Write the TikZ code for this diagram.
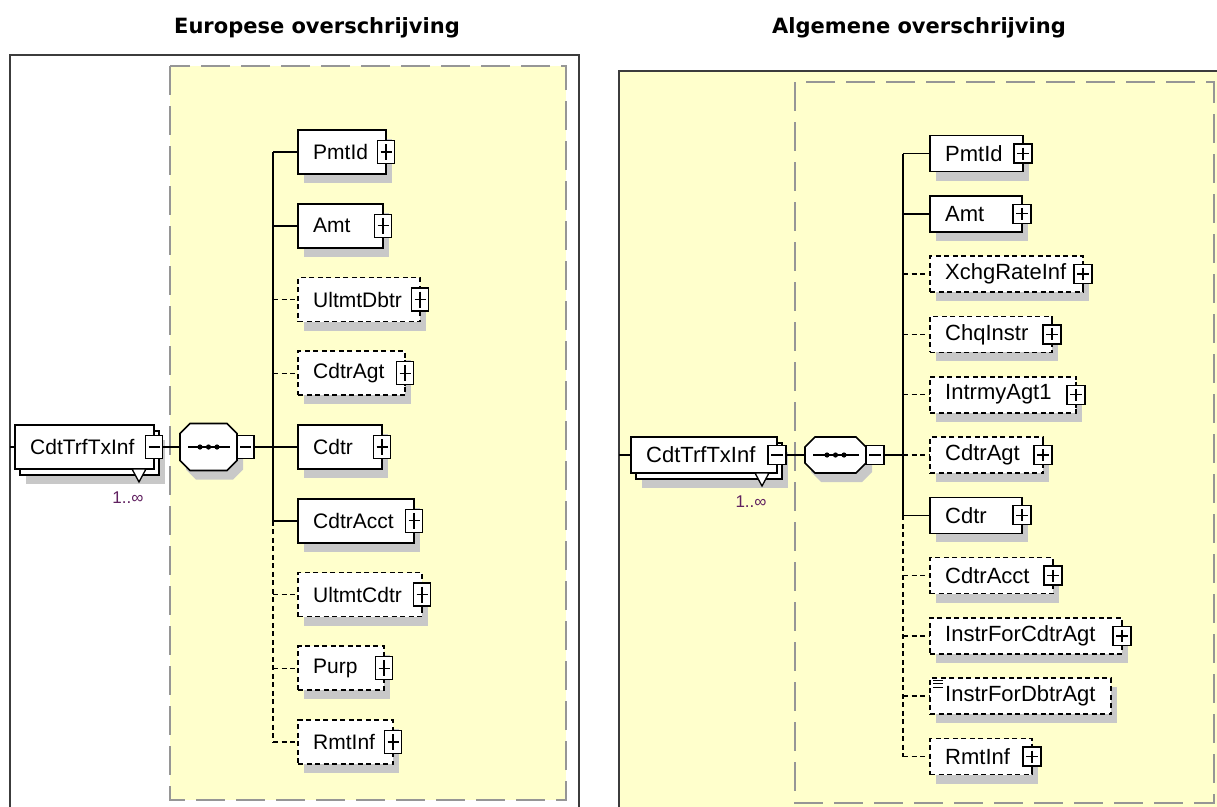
\documentclass[tikz,border=0pt]{standalone}
\usepackage{fontspec}
\setmainfont{Liberation Sans}
\newfontfamily\headfont{DejaVu Sans}
\usetikzlibrary{shadows}

\definecolor{xsdyellow}{RGB}{255,255,204}
\definecolor{xsdshadow}{RGB}{200,200,200}
\definecolor{xsdgroup}{RGB}{150,150,150}
\definecolor{xsdframe}{RGB}{60,60,60}
\definecolor{xsdcard}{RGB}{96,32,96}

% child element: bracket, name, x, y, width, label, kind (mand/opt)
\newcommand{\DrawChild}[7]{
    \node[#7, minimum width=#5, anchor=west, label={[elemtext]west:#6}] (#2) at (#3,#4) {};
    \draw[mandlink] ([yshift=13pt]#2.east) -- ([yshift=-13pt]#2.east);
    \node[expander, plussign] (#2x) at (#2.east) {};
    \draw[#7link] (#1 |- #2.west) -- (#2.west);
}

% root element with stack, minus box and cardinality
\newcommand{\DrawRoot}[5]{
    \node[rootback, minimum width=#4, anchor=west] (#1b) at (#2+5,#3+6) {};
    \node[box, minimum width=#4, anchor=west, label={[elemtext]west:#5}] (#1) at (#2,#3) {};
    \draw[line width=1.3pt, fill=white] ([xshift=-22pt]#1.south east) -- ([xshift=-8pt]#1.south east)
        -- ([xshift=-15pt,yshift=-13pt]#1.south east) -- cycle;
    \node[expander, minussign] (#1x) at (#1.east) {};
    \node[card] (#1n) at ([xshift=-26pt,yshift=-29pt]#1.south east) {1..∞};
}

% sequence compositor
\newcommand{\DrawSequence}[5]{
    \node[seqbox, minimum width=#4, minimum height=#5, anchor=west] (#1) at (#2,#3) {};
    \draw[seqshape] ([xshift=10pt]#1.north west) -- ([xshift=-10pt]#1.north east)
        -- ([yshift=-10pt]#1.north east) -- ([yshift=10pt]#1.south east)
        -- ([xshift=-10pt]#1.south east) -- ([xshift=10pt]#1.south west)
        -- ([yshift=10pt]#1.south west) -- ([yshift=-10pt]#1.north west) -- cycle;
    \draw[line width=1.5pt] ([xshift=8pt]#1.west) -- ([xshift=-7pt]#1.east);
    \foreach \dx in {-8.5,0,8.5}
        \fill ([xshift=\dx pt]#1.center) circle (2.6pt);
    \node[expander, minussign, anchor=west] (#1x) at (#1.east) {};
}

\begin{document}
\begin{tikzpicture}[x=1pt, y=-1pt,
  xsdshade/.style={drop shadow={shadow xshift=6pt, shadow yshift=-9pt, fill=xsdshadow, opacity=1}},
  box/.style={draw, fill=white, line width=1.6pt, inner sep=0pt, outer sep=0pt, minimum height=44pt},
  mand/.style={box, xsdshade},
  opt/.style={mand, dash pattern=on 5pt off 3.5pt},
  rootback/.style={mand},
  mandlink/.style={line width=1.5pt},
  optlink/.style={line width=1.5pt, dash pattern=on 5pt off 3.5pt},
  elemtext/.style={anchor=west, xshift=15pt, inner sep=0pt, font=\fontsize{21}{25}\selectfont},
  expander/.style={draw, fill=white, line width=1.3pt, minimum width=17pt, minimum height=23pt, inner sep=0pt, outer sep=0pt},
  plussign/.style={path picture={\draw[line width=1.3pt]
      ([xshift=3pt]path picture bounding box.west) -- ([xshift=-3pt]path picture bounding box.east)
      ([yshift=-3.5pt]path picture bounding box.north) -- ([yshift=3.5pt]path picture bounding box.south);}},
  minussign/.style={path picture={\draw[line width=1.3pt]
      ([xshift=3pt]path picture bounding box.west) -- ([xshift=-3pt]path picture bounding box.east);}},
  seqbox/.style={inner sep=0pt, outer sep=0pt},
  seqshape/.style={draw, fill=white, line width=1.6pt, xsdshade},
  card/.style={text=xsdcard, inner sep=0pt, font=\fontsize{17}{20}\selectfont},
  heading/.style={font={\headfont\bfseries\fontsize{21}{25}\selectfont}},
  panelframe/.style={draw=xsdframe, line width=2pt},
  groupbox/.style={draw=xsdgroup, line width=2.2pt, dash pattern=on 29pt off 11pt}
  ]
  \path[use as bounding box, clip] (0,0) rectangle (1217,806);

  \node[heading] (ltitle) at (317,28) {Europese overschrijving};
  \node[heading] (rtitle) at (919,28) {Algemene overschrijving};

  % Europese overschrijving
  \draw[panelframe] (10,815) -- (10,55) -- (579,55) -- (579,815);
  \fill[xsdyellow] (170,66) rectangle (566,800);
  \draw[groupbox] (170,66) rectangle (566,800);
  \coordinate (lin) at (10,447);
  \coordinate (lbr) at (273,447);
  \DrawRoot{lroot}{15}{447}{139}{CdtTrfTxInf}
  \DrawSequence{lseq}{180}{447}{57}{47}
  \draw[mandlink] (lin) -- (lroot.west);
  \draw[mandlink] (lrootx.east) -- (lseq.west);
  \draw[mandlink] (lseqx.east) -- (lbr);
  \DrawChild{lbr}{lpmt}{298}{152}{88}{PmtId}{mand}
  \DrawChild{lbr}{lamt}{298}{225.75}{85}{Amt}{mand}
  \DrawChild{lbr}{ludbtr}{298}{299.5}{122}{UltmtDbtr}{opt}
  \DrawChild{lbr}{lagt}{298}{373.25}{107}{CdtrAgt}{opt}
  \DrawChild{lbr}{lcdtr}{298}{447}{84}{Cdtr}{mand}
  \DrawChild{lbr}{lacct}{298}{520.75}{116}{CdtrAcct}{mand}
  \DrawChild{lbr}{lucdtr}{298}{594.5}{124}{UltmtCdtr}{opt}
  \DrawChild{lbr}{lpurp}{298}{668.25}{86}{Purp}{opt}
  \DrawChild{lbr}{lrmt}{298}{742}{95}{RmtInf}{opt}
  \draw[mandlink] (lbr |- lpmt.west) -- (lbr |- lacct.west);
  \draw[optlink] (lbr |- lacct.west) -- (lbr |- lrmt.west);

  % Algemene overschrijving
  \fill[xsdyellow] (619,71) rectangle (1230,815);
  \draw[panelframe] (619,815) -- (619,71) -- (1230,71);
  \draw[groupbox] (795,82) rectangle (1214,803);
  \begin{scope}[box/.append style={minimum height=36pt},
      expander/.append style={minimum width=18pt, minimum height=19pt},
      elemtext/.append style={font=\fontsize{22}{26}\selectfont}]
    \coordinate (rin) at (619,455);
    \coordinate (rbr) at (903,455);
    \DrawRoot{rroot}{631}{455}{146}{CdtTrfTxInf}
    \DrawSequence{rseq}{805}{455}{61}{36}
    \draw[mandlink] (rin) -- (rroot.west);
    \draw[mandlink] (rrootx.east) -- (rseq.west);
    \draw[mandlink] (rseqx.east) -- (rbr);
    \DrawChild{rbr}{rpmt}{930}{153.5}{93}{PmtId}{mand}
    \DrawChild{rbr}{ramt}{930}{213.8}{92}{Amt}{mand}
    \DrawChild{rbr}{rxchg}{930}{274.1}{153}{XchgRateInf}{opt}
    \DrawChild{rbr}{rchq}{930}{334.4}{122}{ChqInstr}{opt}
    \DrawChild{rbr}{rintrmy}{930}{394.7}{146}{IntrmyAgt1}{opt}
    \DrawChild{rbr}{ragt}{930}{455}{113}{CdtrAgt}{opt}
    \DrawChild{rbr}{rcdtr}{930}{515.3}{92}{Cdtr}{mand}
    \DrawChild{rbr}{racct}{930}{575.6}{123}{CdtrAcct}{opt}
    \DrawChild{rbr}{rcdtragt}{930}{635.9}{192}{InstrForCdtrAgt}{opt}
    \node[opt, minimum width=181, anchor=west, label={[elemtext]west:InstrForDbtrAgt}] (rdbtragt) at (930,696.2) {};
    \draw[optlink] (rbr |- rdbtragt.west) -- (rdbtragt.west);
    \foreach \dy in {2,5.5,9}
      \draw[line width=0.9pt] ([xshift=3pt,yshift=-\dy pt]rdbtragt.north west) -- ++(10,0);
    \DrawChild{rbr}{rrmt}{930}{756.5}{102}{RmtInf}{opt}
    \draw[mandlink] (rbr |- rpmt.west) -- (rbr |- rcdtr.west);
    \draw[optlink] (rbr |- rcdtr.west) -- (rbr |- rrmt.west);
  \end{scope}
\end{tikzpicture}
\end{document}
